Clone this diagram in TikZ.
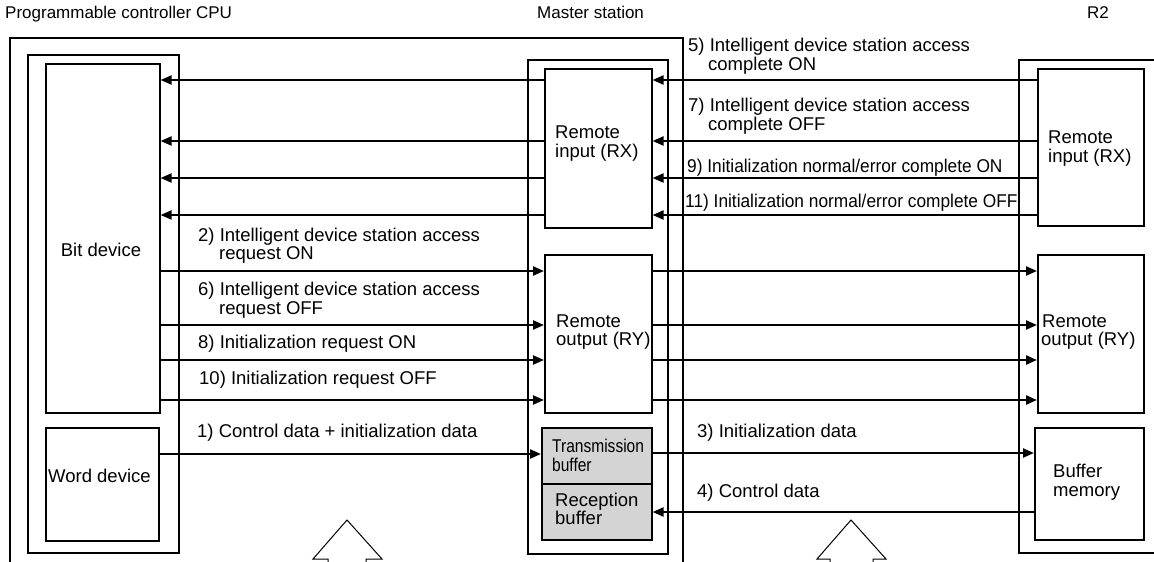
\documentclass[tikz,border=0pt]{standalone}
\usepackage{fontspec}
\usepackage{graphicx}
\setmainfont{Liberation Sans}
\usetikzlibrary{arrows.meta}
\newcommand\lbf{\fontsize{18.5}{18.5}\selectfont}
\newcommand\tpf{\fontsize{17}{17}\selectfont}
\tikzset{
  box/.style={draw, line width=1.6pt, inner sep=0pt, anchor=north west},
  bufbox/.style={box, fill=black!17},
  arr/.style={line width=2.2pt, -{Triangle[length=11pt,width=9pt]}},
  frame/.style={line width=1.6pt},
  lbl/.style={anchor=base west, inner sep=0pt, font=\lbf},
  toplbl/.style={anchor=base west, inner sep=0pt, font=\tpf},
  hollow/.style={line width=1pt},
}
\begin{document}
\begin{tikzpicture}[x=1pt,y=-1pt]
\useasboundingbox (0,0) rectangle (1154,562);

% top labels
\node[toplbl] (tcpu) at (5,19) {Programmable controller CPU};
\node[toplbl] (tms) at (537,19) {Master station};
\node[toplbl] (tr2) at (1087,19) {R2};

% open frames
\draw[frame] (10,562) -- (10,38) -- (683,38) -- (683,562);
\draw[frame] (1154,60) -- (1019,60) -- (1019,553) -- (1154,553);

% boxes
\node[box, minimum width=151pt, minimum height=498pt] (bitframe) at (27,54) {};
\node[box, minimum width=114pt, minimum height=349pt] (bit) at (45,63) {};
\node[box, minimum width=113pt, minimum height=113pt] (word) at (45,427) {};
\node[box, minimum width=140pt, minimum height=494pt] (mframe) at (527,59) {};
\node[box, minimum width=107pt, minimum height=159pt] (mrx) at (544,68) {};
\node[box, minimum width=107pt, minimum height=158pt] (mry) at (544,254) {};
\node[bufbox, minimum width=110pt, minimum height=56pt] (tbuf) at (541,427) {};
\node[bufbox, minimum width=110pt, minimum height=56pt] (rbuf) at (541,483) {};
\node[box, minimum width=106pt, minimum height=157pt] (r2rx) at (1037,68) {};
\node[box, minimum width=106pt, minimum height=158pt] (r2ry) at (1037,254) {};
\node[box, minimum width=109pt, minimum height=112pt] (bufmem) at (1034,427) {};

% box texts
\node[lbl, anchor=base] (tbit) at (101,256) {Bit device};
\node[lbl] (tword) at (48,482) {Word device};
\node[lbl] (tmrx1) at (555,138) {Remote};
\node[lbl] (tmrx2) at (555,157) {input (RX)};
\node[lbl] (tmry1) at (556,327) {Remote};
\node[lbl] (tmry2) at (556,345) {output (RY)};
\node[lbl] (tr2rx1) at (1048,143) {Remote};
\node[lbl] (tr2rx2) at (1048,162) {input (RX)};
\node[lbl] (tr2ry1) at (1042,327) {Remote};
\node[lbl] (tr2ry2) at (1041,345) {output (RY)};
\node[lbl] (tbm1) at (1053,477) {Buffer};
\node[lbl] (tbm2) at (1053,496) {memory};
\node[lbl] (ttb1) at (552,452) {\scalebox{0.84}[1]{Transmission}};
\node[lbl] (ttb2) at (552,471) {\scalebox{0.84}[1]{buffer}};
\node[lbl] (trb1) at (555,506) {Reception};
\node[lbl] (trb2) at (555,524) {buffer};

% RX arrows (right to left)
\foreach \yy in {80,141,178,215} {
  \draw[arr] (mrx.west |- 0,\yy) -- (bit.east |- 0,\yy);
  \draw[arr] (r2rx.west |- 0,\yy) -- (mrx.east |- 0,\yy);
}
% RY arrows (left to right)
\foreach \yy in {271,325,360,400} {
  \draw[arr] (bit.east |- 0,\yy) -- (mry.west |- 0,\yy);
  \draw[arr] (mry.east |- 0,\yy) -- (r2ry.west |- 0,\yy);
}
% data arrows
\draw[arr] (word.east |- 0,454) -- (tbuf.west |- 0,454);
\draw[arr] (tbuf.east |- 0,453) -- (bufmem.west |- 0,453);
\draw[arr] (bufmem.west |- 0,512) -- (rbuf.east |- 0,512);

% arrow labels, right side
\node[lbl] (l5a) at (688,51) {5) Intelligent device station access};
\node[lbl] (l5b) at (708,70) {complete ON};
\node[lbl] (l7a) at (688,111) {7) Intelligent device station access};
\node[lbl] (l7b) at (708,130) {complete OFF};
\node[lbl] (l9) at (687,172) {\scalebox{0.935}[1]{9) Initialization normal/error complete ON}};
\node[lbl] (l11) at (685,207) {\scalebox{0.935}[1]{11) Initialization normal/error complete OFF}};
\node[lbl] (l3) at (697,437) {3) Initialization data};
\node[lbl] (l4) at (697,497) {4) Control data};

% arrow labels, left side
\node[lbl] (l2a) at (198,241) {2) Intelligent device station access};
\node[lbl] (l2b) at (219,259) {request ON};
\node[lbl] (l6a) at (198,295) {6) Intelligent device station access};
\node[lbl] (l6b) at (219,314) {request OFF};
\node[lbl] (l8) at (198,348) {8) Initialization request ON};
\node[lbl] (l10) at (199,384) {10) Initialization request OFF};
\node[lbl] (l1) at (197,437) {1) Control data + initialization data};

% hollow arrows at bottom
\draw[hollow] (328,563) -- (328,559) -- (313,559) -- (347,520) -- (382,559) -- (366,559) -- (366,563);
\draw[hollow] (830,563) -- (830,559) -- (817,559) -- (851,520) -- (886,559) -- (873,559) -- (873,563);
\end{tikzpicture}
\end{document}
